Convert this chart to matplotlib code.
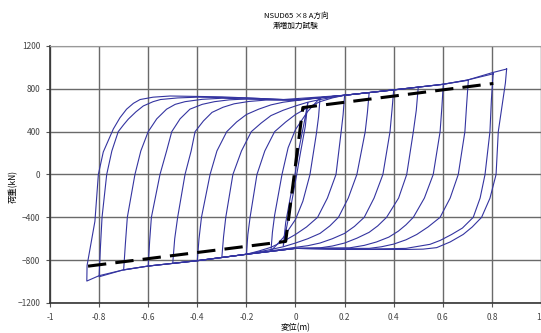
import numpy as np
import matplotlib
matplotlib.use('Agg')
from matplotlib import pyplot as plt

plt.rcParams['font.family'] = ['Noto Sans CJK JP', 'DejaVu Sans']

# hysteresis loops, each one closed: + peak -> - peak -> + peak
loop1_x = [0.86, 0.855, 0.826, 0.817, 0.792, 0.758, 0.72, 0.683, 0.63, 0.575, 0.52, 0.45, 0.2, 0.0,
           -0.2, -0.4, -0.6, -0.7, -0.8, -0.85,
           -0.849, -0.817, -0.803, -0.783, -0.742, -0.715, -0.688, -0.66, -0.633, -0.58, -0.51, -0.3, -0.05,
           0.2, 0.4, 0.6, 0.7, 0.8, 0.86]
loop1_y = [985, 855, 400, 0, -222, -400, -490, -560, -630, -683, -697, -700, -700, -690,
           -745, -805, -855, -890, -945, -995,
           -850, -437, 0, 210, 425, 530, 610, 665, 700, 722, 733, 725, 700,
           740, 790, 842, 882, 950, 985]

loop2_x = [0.805, 0.798, 0.792, 0.772, 0.752, 0.724, 0.68, 0.636, 0.59, 0.548, 0.45, 0.2, 0.0,
           -0.2, -0.4, -0.6, -0.7, -0.8,
           -0.795, -0.788, -0.769, -0.748, -0.722, -0.70, -0.681, -0.65, -0.62, -0.58, -0.55, -0.48, -0.4,
           -0.2, 0.0, 0.2, 0.4, 0.6, 0.7, 0.805]
loop2_y = [940, 700, 400, 0, -220, -400, -500, -560, -615, -652, -690, -700, -690,
           -745, -805, -855, -890, -955,
           -700, -400, 0, 220, 400, 465, 517, 585, 640, 680, 700, 715, 722,
           715, 695, 740, 790, 842, 882, 940]

loop3_x = [0.704, 0.697, 0.69, 0.663, 0.63, 0.589, 0.54, 0.494, 0.45, 0.40, 0.35, 0.3, 0.0,
           -0.2, -0.4, -0.6, -0.7,
           -0.693, -0.685, -0.654, -0.63, -0.6, -0.565, -0.525, -0.49, -0.45, -0.38, -0.3, 0.0,
           0.2, 0.4, 0.6, 0.704]
loop3_y = [880, 650, 400, 0, -220, -400, -490, -560, -610, -650, -675, -690, -690,
           -745, -805, -855, -892,
           -650, -400, 0, 220, 400, 520, 610, 655, 680, 702, 712, 695,
           740, 790, 842, 880]

loop4_x = [0.602, 0.596, 0.589, 0.561, 0.525, 0.48, 0.45, 0.419, 0.38, 0.33, 0.28, 0.22, 0.0,
           -0.2, -0.4, -0.6,
           -0.594, -0.587, -0.552, -0.525, -0.504, -0.47, -0.43, -0.38, -0.33, -0.27, -0.2, 0.0,
           0.2, 0.4, 0.602]
loop4_y = [842, 620, 400, 0, -220, -400, -470, -529, -585, -630, -662, -685, -690,
           -745, -805, -855,
           -620, -400, 0, 220, 400, 520, 610, 655, 680, 697, 705, 695,
           740, 790, 842]

loop5_x = [0.5, 0.492, 0.48, 0.453, 0.42, 0.371, 0.335, 0.30, 0.25, 0.2, 0.15, 0.1, 0.0,
           -0.2, -0.4, -0.5,
           -0.492, -0.48, -0.45, -0.425, -0.409, -0.375, -0.34, -0.295, -0.25, -0.19, -0.12, 0.0,
           0.2, 0.4, 0.5]
loop5_y = [815, 600, 400, 0, -220, -400, -480, -540, -595, -640, -668, -685, -690,
           -745, -805, -830,
           -600, -400, 0, 220, 400, 500, 580, 628, 660, 682, 695, 695,
           740, 790, 815]

loop6_x = [0.4, 0.393, 0.385, 0.356, 0.32, 0.28, 0.24, 0.2, 0.15, 0.1, 0.05, 0.0, -0.2, -0.4,
           -0.393, -0.383, -0.348, -0.32, -0.28, -0.24, -0.2, -0.15, -0.1, -0.05, 0.0, 0.2, 0.4]
loop6_y = [790, 600, 400, 0, -220, -400, -485, -550, -600, -640, -665, -680, -745, -805,
           -600, -400, 0, 220, 400, 490, 560, 610, 650, 675, 690, 740, 790]

loop7_x = [0.3, 0.293, 0.284, 0.25, 0.215, 0.175, 0.14, 0.1, 0.05, 0.0, -0.05, -0.1, -0.2, -0.3,
           -0.293, -0.284, -0.255, -0.22, -0.18, -0.14, -0.1, -0.05, 0.0, 0.05, 0.1, 0.2, 0.3]
loop7_y = [765, 580, 400, 0, -220, -400, -480, -550, -600, -640, -675, -700, -745, -775,
           -580, -400, 0, 220, 400, 480, 550, 600, 640, 675, 700, 740, 765]

loop8_x = [0.2, 0.194, 0.186, 0.165, 0.13, 0.09, 0.045, 0.0, -0.05, -0.1, -0.15, -0.2,
           -0.194, -0.185, -0.157, -0.125, -0.085, -0.04, 0.0, 0.05, 0.1, 0.15, 0.2]
loop8_y = [740, 560, 400, 0, -220, -400, -490, -560, -625, -680, -715, -745,
           -560, -400, 0, 220, 400, 490, 560, 625, 680, 715, 740]

loop9_x = [0.1, 0.094, 0.085, 0.059, 0.03, 0.0, -0.05, -0.1,
           -0.094, -0.085, -0.055, -0.03, 0.0, 0.05, 0.1]
loop9_y = [715, 540, 380, 0, -250, -420, -590, -715,
           -540, -380, 0, 250, 420, 590, 715]

loop10_x = [0.05, 0.04, 0.02, 0.005, -0.015, -0.035, -0.05,
            -0.04, -0.02, -0.002, 0.015, 0.035, 0.05]
loop10_y = [670, 450, 200, 0, -250, -480, -670,
            -450, -200, 0, 250, 480, 670]

# skeleton curve (dashed)
skel_x = [-0.845, -0.04, 0.03, 0.806]
skel_y = [-856, -625, 625, 850]

xticks = [-1, -0.8, -0.6, -0.4, -0.2, 0, 0.2, 0.4, 0.6, 0.8, 1]
xtick_labels = ['-1', '-0.8', '-0.6', '-0.4', '-0.2', '0', '0.2', '0.4', '0.6', '0.8', '1']
yticks = [-1200, -800, -400, 0, 400, 800, 1200]

fig = plt.figure(figsize=(5.41, 3.33), dpi=100)
ax = fig.add_axes([0.0924, 0.0901, 0.9076, 0.7718])

loops = [(loop1_x, loop1_y), (loop2_x, loop2_y), (loop3_x, loop3_y), (loop4_x, loop4_y),
         (loop5_x, loop5_y), (loop6_x, loop6_y), (loop7_x, loop7_y), (loop8_x, loop8_y),
         (loop9_x, loop9_y), (loop10_x, loop10_y)]
for lx, ly in loops:
    ax.plot(lx, ly, color='#3434a0', linewidth=0.8)

ax.plot(skel_x, skel_y, color='black', linewidth=2.2, dashes=(6, 3))

ax.set_xlim(-1, 1)
ax.set_ylim(-1200, 1200)
ax.set_xticks(xticks)
ax.set_xticklabels(xtick_labels)
ax.set_yticks(yticks)
ax.grid(True, color='#6a6a6a', linewidth=1.0)
ax.set_axisbelow(True)
ax.tick_params(labelsize=6, labelcolor='#444444', length=3, color='#555555', pad=4)
ax.get_xticklabels()[-1].set_ha('right')
for side in ['left', 'bottom']:
    ax.spines[side].set_color('#333333')
    ax.spines[side].set_linewidth(1.2)
for side in ['top', 'right']:
    ax.spines[side].set_color('#999999')
    ax.spines[side].set_linewidth(0.8)

fig.text(0.547, 0.952, 'NSUD65 ×8 A方向', ha='center', va='center', fontsize=5.5)
fig.text(0.547, 0.922, '漸増加力試験', ha='center', va='center', fontsize=5.5)
fig.text(0.024, 0.44, '荷重(kN)', ha='center', va='center', rotation=90, fontsize=6)
fig.text(0.547, 0.016, '変位(m)', ha='center', va='center', fontsize=6)

fig.savefig('out.png', dpi=100)
